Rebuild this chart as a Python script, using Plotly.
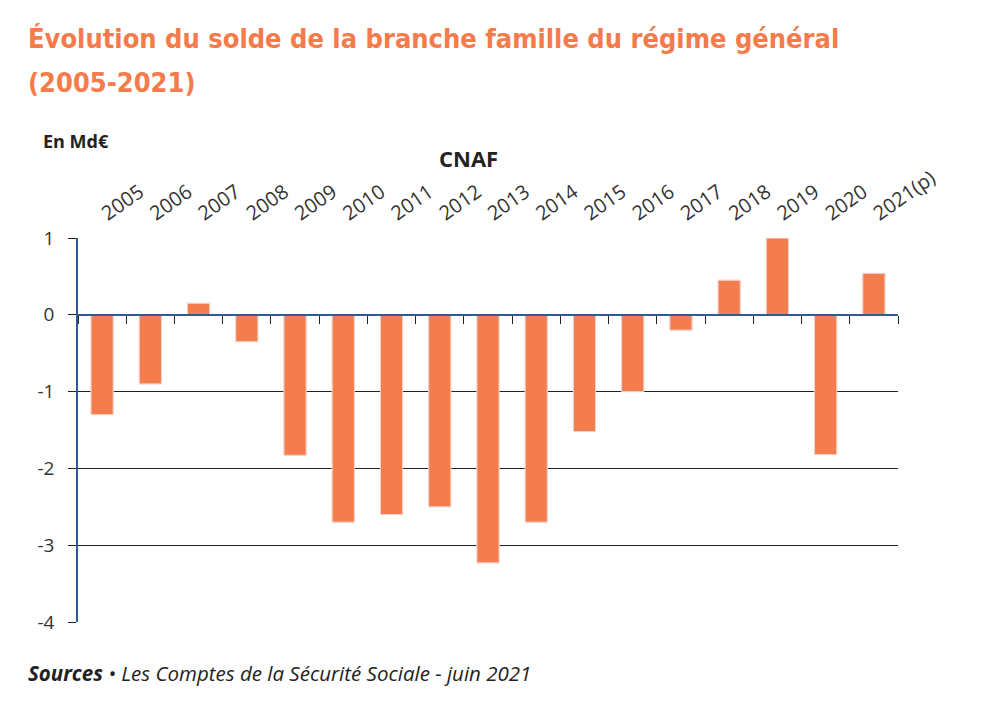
import plotly.graph_objects as go

years = ["2005", "2006", "2007", "2008", "2009", "2010", "2011", "2012", "2013",
         "2014", "2015", "2016", "2017", "2018", "2019", "2020", "2021(p)"]
solde = [-1.3, -0.9, 0.15, -0.35, -1.83, -2.7, -2.6, -2.5, -3.23,
         -2.7, -1.52, -1.0, -0.2, 0.45, 1.0, -1.82, 0.54]
y_ticks = [1, 0, -1, -2, -3, -4]
title_lines = ["Évolution du solde de la branche famille du régime général", "(2005-2021)"]

W, H = 982, 705
ML, MR, MT, MB = 78, 84, 238, 83
PW, PH = W - ML - MR, H - MT - MB


def px(x):
    return (x - ML) / PW


def py(y):
    return (H - MB - y) / PH


ORANGE = "#F47D4D"
BLUE = "#2F5C8F"

fig = go.Figure()
fig.add_trace(go.Bar(
    x=years, y=solde, xaxis="x", yaxis="y",
    marker=dict(color=ORANGE, line=dict(color="#F9B8A0", width=1)),
    hoverinfo="x+y", showlegend=False,
))
# invisible copy to drive the category axis crossing at zero
fig.add_trace(go.Bar(
    x=years, y=solde, xaxis="x2", yaxis="y",
    marker=dict(color="rgba(0,0,0,0)"), hoverinfo="skip", showlegend=False,
))

fig.update_layout(
    width=W, height=H,
    margin=dict(l=ML, r=MR, t=MT, b=MB),
    paper_bgcolor="white", plot_bgcolor="white",
    bargap=0.54,
    barmode="overlay",
    font=dict(family="Open Sans", color="#333333"),
    xaxis=dict(
        type="category", side="top", range=[-0.5, len(years) - 0.5],
        showgrid=False, zeroline=False, showline=False, ticks="",
        tickangle=-35, tickfont=dict(family="Open Sans", size=20, color="#333333"),
        ticklabelstandoff=10,
    ),
    xaxis2=dict(
        type="category", overlaying="x", anchor="free", position=4 / 5,
        range=[-0.5, len(years) - 0.5], side="bottom",
        showgrid=False, zeroline=False, showline=True, linecolor=BLUE, linewidth=1.5,
        ticks="outside", tickson="boundaries", ticklen=8, tickcolor="#222222",
        tickwidth=1.2, showticklabels=False,
    ),
    yaxis=dict(
        range=[-4, 1], tickvals=y_ticks, ticktext=[str(v) for v in y_ticks],
        showgrid=True, gridcolor="#222222", gridwidth=1,
        zeroline=False, showline=True, linecolor=BLUE, linewidth=1.5,
        ticks="outside", ticklen=8, tickcolor="#222222",
        tickfont=dict(family="Open Sans", size=19, color="#333333"),
        ticklabelstandoff=10,
    ),
)

title_font = dict(family="DejaVu Sans Condensed", size=27, color="#F47B4B", weight="bold")
annotations = [
    dict(text=title_lines[0], x=px(26), y=py(39), xanchor="left", yanchor="middle",
         font=title_font),
    dict(text=title_lines[1], x=px(26), y=py(82), xanchor="left", yanchor="middle",
         font=title_font),
    dict(text="<b>En Md€</b>", x=px(41), y=py(141), xanchor="left", yanchor="middle",
         font=dict(family="Open Sans", size=18, color="#222222")),
    dict(text="<b>CNAF</b>", x=px(468), y=py(158), xanchor="center", yanchor="middle",
         font=dict(family="Open Sans", size=22, color="#222222")),
    dict(text="<b><i>Sources</i></b><i> • Les Comptes de la Sécurité Sociale - juin 2021</i>",
         x=px(26), y=py(673), xanchor="left", yanchor="middle",
         font=dict(family="Open Sans", size=20.5, color="#222222")),
]
for a in annotations:
    a.update(xref="paper", yref="paper", showarrow=False)
fig.update_layout(annotations=annotations)

fig.write_html("out.html")
